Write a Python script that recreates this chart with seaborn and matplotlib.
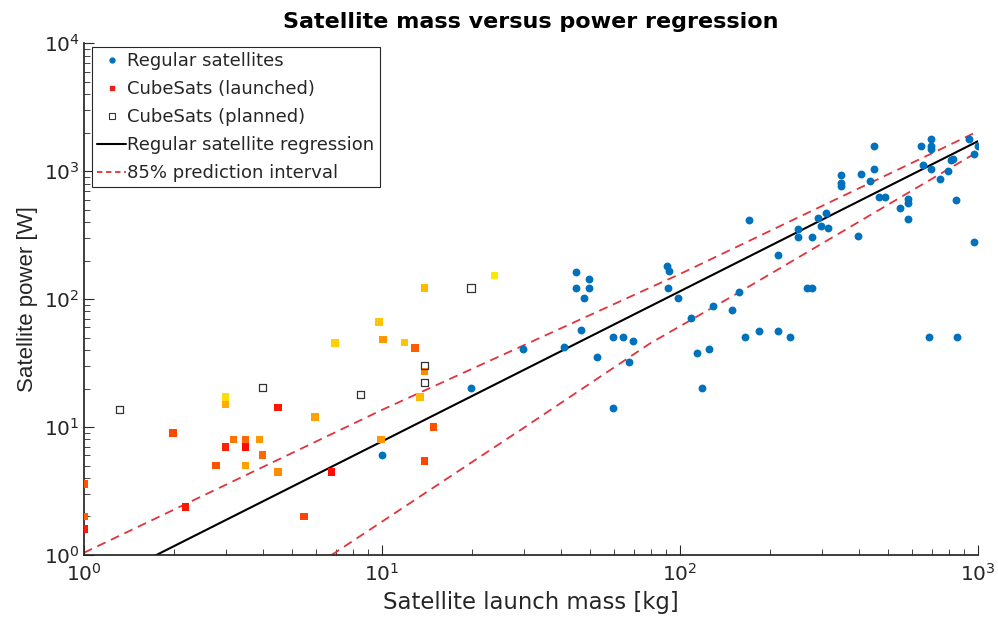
import numpy as np
import pandas as pd
import matplotlib
matplotlib.use("Agg")
import matplotlib.pyplot as plt
from matplotlib.lines import Line2D
import seaborn as sns

# Regular satellites: launch mass [kg] and power [W]
reg_mass = [10, 19.9, 29.8, 40.7, 44.7, 44.7, 49.6, 49.6, 47.7, 46.6,
            52.6, 59.6, 59.6, 64.5, 69.5, 67.6, 90.4, 92.1, 91.4, 98.7,
            109, 114, 119, 125, 129, 149, 158, 165, 171, 184,
            214, 214, 234, 248, 248, 267, 278, 278, 291, 298,
            308, 314, 346, 346, 346, 396, 404, 433, 447, 447,
            464, 487, 549, 582, 582, 582, 646, 652, 683, 695,
            695, 695, 695, 745, 794, 811, 826, 841, 851, 929,
            973, 996, 971]
reg_power = [6.0, 20.2, 40.5, 42.4, 163, 122, 143, 122, 102, 56.9,
             35.4, 50.8, 14.1, 50.8, 46.7, 32.4, 180, 166, 122, 102,
             71.5, 37.7, 20.3, 40.7, 87.7, 81.6, 113, 50.8, 412, 55.9,
             222, 55.9, 50.8, 352, 307, 122, 122, 307, 429, 372,
             467, 357, 930, 811, 768, 309, 942, 831, 1567, 1037,
             630, 623, 517, 601, 565, 422, 1567, 1109, 50.8, 1778,
             1567, 1477, 1042, 871, 995, 1219, 1241, 590, 50.8, 1778,
             1350, 1567, 281]

# CubeSats already launched; shade runs red (0) to yellow (1)
cube_mass = [1.0, 1.0, 1.0, 1.99, 2.19, 2.99, 2.99, 2.99, 2.78, 3.18,
             3.49, 3.49, 3.49, 3.88, 3.98, 4.48, 4.48, 5.47, 5.96, 6.78,
             6.95, 9.77, 10.1, 9.93, 11.9, 12.9, 13.9, 13.9, 13.4, 14.9,
             13.9, 23.9]
cube_power = [3.57, 2.0, 1.59, 9.0, 2.38, 17.2, 15.0, 7.0, 5.0, 8.0,
              8.0, 7.0, 5.0, 8.0, 6.04, 14.2, 4.47, 2.0, 12.0, 4.47,
              45.6, 66, 48.4, 8.0, 45.9, 41.4, 122, 27.2, 17.2, 10.0,
              5.4, 153]
cube_shade = [0.35, 0.4, 0.1, 0.3, 0.1, 0.95, 0.75, 0.15, 0.35, 0.5,
              0.45, 0.05, 0.7, 0.65, 0.45, 0.1, 0.6, 0.3, 0.7, 0.05,
              0.9, 0.85, 0.65, 0.65, 0.85, 0.4, 0.8, 0.6, 0.8, 0.35,
              0.3, 1.0]

# CubeSats planned
plan_mass = [1.32, 3.98, 8.46, 13.9, 13.9, 19.9]
plan_power = [13.6, 20.3, 18.1, 30.3, 22.4, 122]

# Regression line and 85% prediction interval
fit_mass = [1, 1000]
fit_power = [0.518, 1715]
upper_mass = [1, 10, 100, 1000]
upper_power = [1.04, 13.6, 157, 2050]
lower_mass = [6.78, 29.8, 79.3, 158, 1000]
lower_power = [1.0, 9.8, 45, 113, 1420]

BLUE = "#0072BD"
RED = "#e0343c"
INK = "#262626"
DASH = (0, (5, 3.3))

sns.set_theme(style="ticks")
plt.rcParams.update({
    "font.family": ["DejaVu Sans"],
    "axes.edgecolor": INK,
    "xtick.color": INK,
    "ytick.color": INK,
    "xtick.direction": "in",
    "ytick.direction": "in",
})

fig = plt.figure(figsize=(9.98, 6.35), dpi=100)
ax = fig.add_axes([0.084, 0.126, 0.896, 0.806])

sns.scatterplot(x=reg_mass, y=reg_power, color=BLUE, marker="o", s=32,
                linewidth=0, ax=ax, zorder=3)
sns.scatterplot(x=cube_mass, y=cube_power, hue=cube_shade, palette="autumn",
                hue_norm=(0, 1.1), marker="s", s=30, linewidth=0, legend=False,
                ax=ax, zorder=3)
sns.scatterplot(x=plan_mass, y=plan_power, marker="s", s=26,
                facecolor="none", edgecolor="#333333", linewidth=0.9,
                ax=ax, zorder=3)

sns.lineplot(x=fit_mass, y=fit_power, color="black", linewidth=1.5,
             estimator=None, sort=False, ax=ax, zorder=2)
sns.lineplot(x=upper_mass, y=upper_power, color=RED, linewidth=1.3,
             linestyle=DASH, estimator=None, sort=False, ax=ax, zorder=2)
sns.lineplot(x=lower_mass, y=lower_power, color=RED, linewidth=1.3,
             linestyle=DASH, estimator=None, sort=False, ax=ax, zorder=2)

ax.set_xscale("log")
ax.set_yscale("log")
ax.set_xlim(1, 1000)
ax.set_ylim(1, 10000)
ax.tick_params(axis="both", which="major", length=7, width=0.8, labelsize=14.5)
ax.tick_params(axis="x", which="major", pad=6)
ax.tick_params(axis="y", which="major", pad=3)
ax.tick_params(axis="both", which="minor", length=4, width=0.6)
sns.despine(ax=ax)

ax.set_title("Satellite mass versus power regression", fontsize=16,
             fontweight="bold", pad=11, color="black")
ax.set_xlabel("Satellite launch mass [kg]", fontsize=16.4, color=INK)
ax.set_ylabel("Satellite power [W]", fontsize=16, color=INK,
              family=["Liberation Sans", "DejaVu Sans"])

handles = [
    Line2D([], [], linestyle="none", marker="o", markersize=3.5,
           color=BLUE, label="Regular satellites"),
    Line2D([], [], linestyle="none", marker="s", markersize=3.5,
           color="#e8201a", label="CubeSats (launched)"),
    Line2D([], [], linestyle="none", marker="s", markersize=4,
           markerfacecolor="none", markeredgecolor="#333333",
           markeredgewidth=0.8, label="CubeSats (planned)"),
    Line2D([], [], color="black", linewidth=1.5,
           label="Regular satellite regression"),
    Line2D([], [], color=RED, linewidth=1.3, linestyle=(0, (3, 2)),
           label="85% prediction interval"),
]
leg = ax.legend(handles=handles, loc="upper left", bbox_to_anchor=(0.009, 0.993),
                borderaxespad=0, fontsize=13, frameon=True, fancybox=False,
                edgecolor=INK, framealpha=1, handlelength=1.6,
                handletextpad=0.05, labelspacing=0.55, borderpad=0.3)
leg.get_frame().set_linewidth(0.8)

fig.savefig("out.png", dpi=100)
